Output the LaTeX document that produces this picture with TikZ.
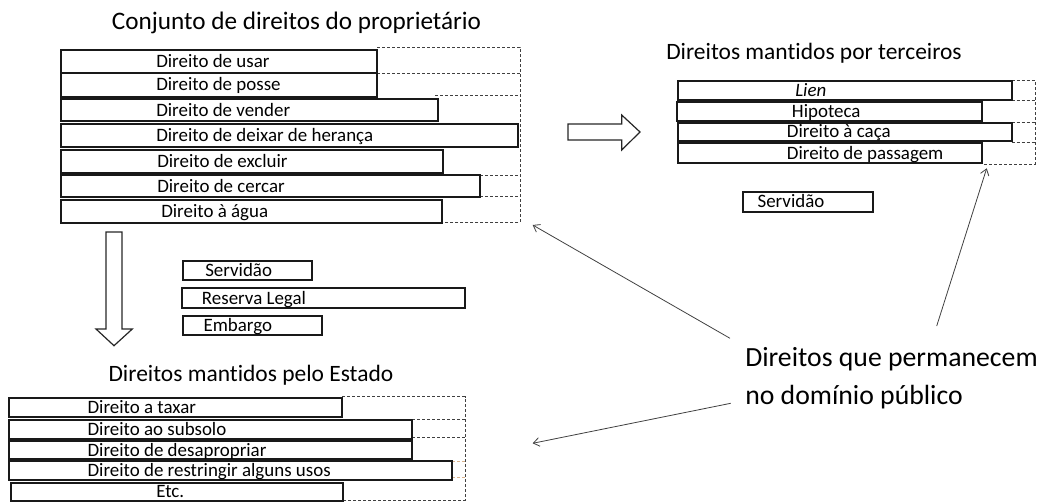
\documentclass[tikz,border=0pt]{standalone}
\usepackage{fontspec}
\setmainfont{Carlito}[Ligatures=CommonOff]
\usetikzlibrary{arrows.meta}
\tikzset{
  box/.style={draw=black!90, line width=1.3pt, inner sep=0pt, fill=white},
  lbl/.style={anchor=west, inner sep=0pt, font=\fontsize{14.2pt}{17pt}\selectfont, text height=9.1pt, text depth=0pt},
  ttl/.style={anchor=base west, inner sep=0pt},
  dsh/.style={draw=black!75, line width=0.6pt, dash pattern=on 2.25pt off 1.5pt},
  bigarrow/.style={draw=black!85, line width=0.9pt, line join=miter},
  thin/.style={draw=black!75, line width=0.6pt, -{Straight Barb[length=4.5pt,width=6.5pt]}},
}
\newcommand\rbox[7]{%
  \node[box, minimum width={(#4-#2)*0.75pt}, minimum height={(#5-#3)*0.75pt}] (#1) at ({(#2+#4)/2},{(#3+#5)/2}) {};
  \node[lbl] (#1-t) at (#6,{(#3+#5)/2}) {#7};}
\begin{document}
\begin{tikzpicture}[x=0.75pt,y=-0.75pt]
\useasboundingbox (0,0) rectangle (1058,503);

% titles
\node[ttl, font=\fontsize{18.9pt}{22pt}\selectfont] (t1) at (111.7,29.3) {Conjunto de direitos do proprietário};
\node[ttl, font=\fontsize{17.6pt}{21pt}\selectfont] (t2) at (666,60) {Direitos mantidos por terceiros};
\node[ttl, font=\fontsize{17.6pt}{21pt}\selectfont] (t3) at (108.3,381.7) {Direitos mantidos pelo Estado};

% dashed outlines: owner
\draw[dsh] (377,47.3) -- (520,47.3) -- (520,222.7) -- (441.7,222.7);
\draw[dsh] (377,73.3) -- (520,73.3);
\draw[dsh] (435,95) -- (520,95);
\draw[dsh] (480,175) -- (520,175);
\draw[dsh] (480,196.7) -- (520,196.7);
% dashed outlines: third parties
\draw[dsh] (1011.7,80.7) -- (1035,80.7) -- (1035,164) -- (981.7,164);
\draw[dsh] (1011.7,100) -- (1035,100);
\draw[dsh] (981.7,122.3) -- (1035,122.3);
\draw[dsh] (1011.7,142.5) -- (1035,142.5);
% dashed outlines: state
\draw[dsh] (342.3,396.7) -- (465,396.7) -- (465,500) -- (343.3,500);
\draw[dsh] (412.3,419.3) -- (465,419.3);
\draw[dsh] (412.3,437.3) -- (465,437.3);
\draw[dsh, draw=brown!60] (452.3,461) -- (465,461);
\draw[dsh, draw=brown!60] (452.3,477.7) -- (465,477.7);

% owner's bundle
\rbox{b1}{61}{50}{377}{72.7}{156}{Direito de usar}
\rbox{b2}{61}{72.7}{377}{96.7}{156}{Direito de posse}
\rbox{b3}{61}{99}{438}{121}{156}{Direito de vender}
\rbox{b4}{61}{124}{518}{147}{156}{Direito de deixar de herança}
\rbox{b5}{61}{150}{442.7}{173.3}{157}{Direito de excluir}
\rbox{b6}{61}{175}{480}{197}{157}{Direito de cercar}
\rbox{b7}{61}{200}{441.7}{222.7}{161}{Direito à água}

% third parties
\rbox{r1}{678.3}{80.7}{1011.7}{100}{795}{\itshape Lien}
\rbox{r2}{677.3}{101.7}{981.7}{121}{791.7}{Hipoteca}
\rbox{r3}{678}{122.7}{1011.7}{141}{786.7}{Direito à caça}
\rbox{r4}{678}{143.3}{981.7}{162.7}{786.7}{Direito de passagem}
\rbox{rs}{742.7}{191.7}{873.3}{211.7}{757.3}{Servidão}

% middle
\rbox{m1}{183.3}{260.7}{311.7}{280}{205}{Servidão}
\rbox{m2}{181.7}{288.3}{465}{308.3}{201.7}{Reserva Legal}
\rbox{m3}{182.7}{316}{321.7}{335}{203.3}{Embargo}

% state
\rbox{s1}{9.3}{398.3}{342.3}{417.3}{87.3}{Direito a taxar}
\rbox{s2}{9}{420}{412.3}{439}{87.3}{Direito ao subsolo}
\rbox{s3}{9}{440.7}{412.3}{459.3}{87.3}{Direito de desapropriar}
\rbox{s4}{9.3}{461}{452.3}{480}{87.3}{Direito de restringir alguns usos}
\rbox{s5}{11}{482.7}{343.3}{500.7}{156}{Etc.}

% block arrows
\draw[bigarrow] (568,124) -- (621.7,124) -- (621.7,115) -- (640,132) -- (621.7,150) -- (621.7,140) -- (568,140) -- cycle;
\draw[bigarrow] (106,232) -- (122,232) -- (122,329) -- (132.3,329) -- (114,345.7) -- (96,329) -- (106,329) -- cycle;

% public domain label
\node[ttl, font=\fontsize{20.8pt}{28pt}\selectfont] (pub1) at (745,366) {Direitos que permanecem};
\node[ttl, font=\fontsize{20.8pt}{28pt}\selectfont] (pub2) at (745,404) {no domínio público};

\coordinate (a1s) at (730,338.3);
\coordinate (a1e) at (532.7,225);
\coordinate (a2s) at (936.7,326);
\coordinate (a2e) at (986.7,168.3);
\coordinate (a3s) at (730.7,403.3);
\coordinate (a3e) at (532.7,443.3);
\draw[thin] (a1s) -- (a1e);
\draw[thin] (a2s) -- (a2e);
\draw[thin] (a3s) -- (a3e);
\end{tikzpicture}
\end{document}
